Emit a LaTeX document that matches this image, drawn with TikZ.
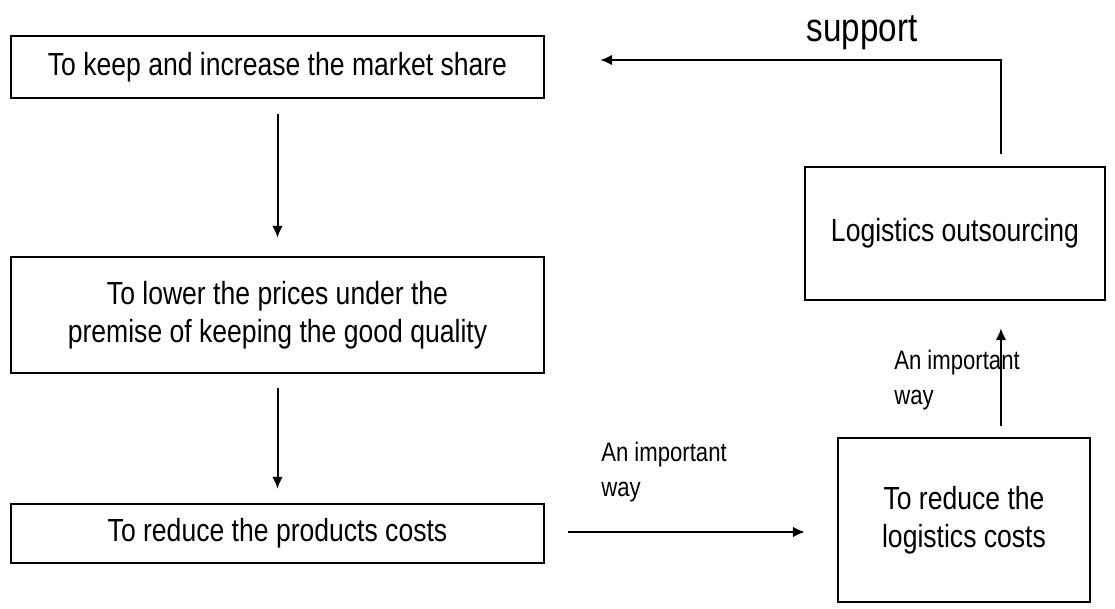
\documentclass[tikz,border=0pt]{standalone}
\usepackage{fontspec}
\setmainfont{Liberation Sans}[FakeStretch=0.83]
\usetikzlibrary{arrows.meta}

\tikzset{
  flowbox/.style={draw, line width=1.8pt, inner sep=0pt, align=center,
    font=\fontsize{24}{28.5}\selectfont},
  flowarrow/.style={-{Latex[length=9pt,width=8pt]}, line width=1.5pt},
  waylabel/.style={anchor=north west, inner sep=0.75pt, align=left,
    font=\fontsize{20}{26}\selectfont}
}

\begin{document}
\begin{tikzpicture}[x=0.75pt,y=0.75pt,yscale=-1,xscale=1]
\useasboundingbox (0,0) rectangle (1115,608);

%Shape: Rectangle [market share]
\node [flowbox, minimum width=399.75pt, minimum height=46.5pt] (keep) at (277.5,67) {To keep and increase the market share};
%Shape: Rectangle [prices]
\node [flowbox, minimum width=399.75pt, minimum height=87pt] (lower) at (277.5,315) {To lower the prices under the\\premise of keeping the good quality};
%Shape: Rectangle [products costs]
\node [flowbox, minimum width=399.75pt, minimum height=44.25pt] (reduce) at (277.5,533.5) {To reduce the products costs};
%Shape: Rectangle [logistics costs]
\node [flowbox, minimum width=189pt, minimum height=123pt] (logi) at (964,520) {To reduce the\\logistics costs};
%Shape: Rectangle [outsourcing]
\node [flowbox, minimum width=225pt, minimum height=99.75pt] (out) at (955,233.5) {Logistics outsourcing};

\coordinate (turn) at (1001,60);

%Straight Lines
\draw [flowarrow, shorten <=11.25pt, shorten >=13.5pt] (keep.south) -- (lower.north);
\draw [flowarrow, shorten <=10.5pt, shorten >=10.5pt] (lower.south) -- (reduce.north);
\draw [flowarrow, shorten <=17.25pt, shorten >=24pt] (reduce.east |- 0,532) -- (logi.west |- 0,532);
\draw [flowarrow, shorten <=8.25pt, shorten >=20.25pt] (logi.north -| turn) -- (out.south -| turn);
\draw [flowarrow, shorten <=9pt, shorten >=41.25pt] (out.north -| turn) -- (turn) -- (keep.east |- turn);

% Text Node
\node [inner sep=0.75pt, font=\fontsize{30}{36}\selectfont] (support) at (862,33) {support};
% Text Node
\node [waylabel] (way1) at (600,441) {An important\\way};
% Text Node
\node [waylabel] (way2) at (893,349) {An important\\way};

\end{tikzpicture}
\end{document}
